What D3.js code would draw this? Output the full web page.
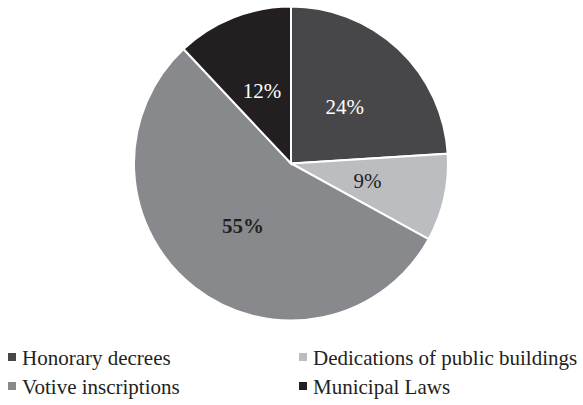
<!DOCTYPE html>
<html><head><meta charset="utf-8">
<script src="https://cdn.jsdelivr.net/npm/d3@7"></script>
<style>body{margin:0;background:#fff}</style>
</head><body>
<svg id="c" width="583" height="405"></svg>
<script>
const categories = ["Honorary decrees","Dedications of public buildings","Votive inscriptions","Municipal Laws"];
const values = [24, 9, 55, 12];
const colors = ["#474749","#bcbdc0","#88898c","#231f20"];
const labelColors = ["#ffffff","#231f20","#231f20","#ffffff"];
const labelWeights = ["normal","normal","bold","normal"];

const FONT = "'Liberation Serif', 'Times New Roman', serif";
const svg = d3.select("#c");
const cx = 291, cy = 163.5, r = 157;
const pie = d3.pie().sort(null).value(d => d)(values);
const arc = d3.arc().innerRadius(0).outerRadius(r);
const g = svg.append("g").attr("transform", `translate(${cx},${cy})`);
g.selectAll("path").data(pie).join("path")
  .attr("d", arc).attr("fill", (d,i) => colors[i])
  .attr("stroke", "#fff").attr("stroke-width", 2);
const lab = d3.arc().innerRadius(r*0.5).outerRadius(r*0.5);
g.selectAll("text").data(pie).join("text")
  .attr("transform", d => `translate(${lab.centroid(d)})`)
  .attr("text-anchor","middle").attr("dy","0.35em")
  .attr("font-family", FONT)
  .attr("font-size", 21)
  .attr("fill", (d,i) => labelColors[i])
  .attr("font-weight", (d,i) => labelWeights[i])
  .text(d => d.data + "%");

const lg = svg.append("g");
const pos = [[8,365],[299,365],[8,394],[299,394]];
categories.forEach((c,i) => {
  const [x,y] = pos[i];
  lg.append("rect").attr("x",x).attr("y",y-12).attr("width",8).attr("height",8).attr("fill",colors[i]);
  lg.append("text").attr("x",x+14).attr("y",y)
    .attr("font-family", FONT)
    .attr("font-size",21).attr("fill","#231f20").text(c);
});
</script>
</body></html>
